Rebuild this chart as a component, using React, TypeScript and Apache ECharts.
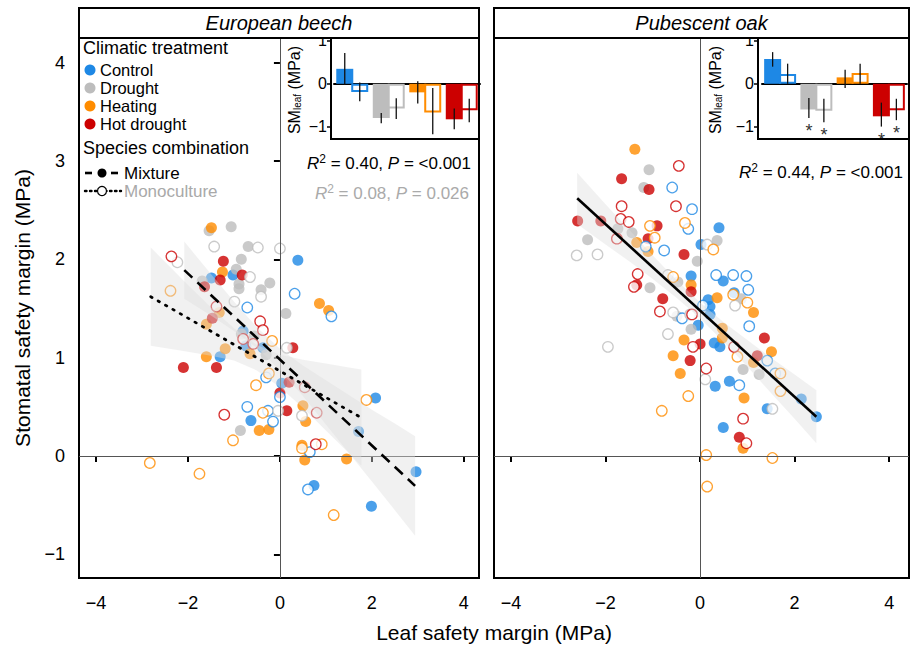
import React, { useEffect, useRef } from 'react';
import * as echarts from 'echarts';

const FONT = '"Liberation Sans", Arial, Helvetica, sans-serif';

const treatments = ['Control', 'Drought', 'Heating', 'Hot drought'];
const treatmentColors = ['#1e88e5', '#bdbdbd', '#ff8c00', '#cc0000'];
const panelTitles = ['European beech', 'Pubescent oak'];
const combinations = ['Mixture', 'Monoculture'];

const beechXRange = [-4.37, 4.33];
const oakXRange = [-4.36, 4.42];
const mainYRange = [-1.24, 4.25];
const xTicks = [-4, -2, 0, 2, 4];
const yTicks = [-1, 0, 1, 2, 3, 4];
const insetYRange = [-1.29, 1.07];
const insetTicks = [-1, 0, 1];

// European beech — filled = mixture, open = monoculture
const beechControlMix = [[0.39, 1.99], [-1.02, 1.84], [-1.49, 1.81], [-0.8, 1.27], [-0.74, 1.12], [-0.37, 1.1], [-1.3, 1.01], [0.04, 0.74], [-0.63, 0.36], [2.08, 0.59], [1.71, 0.25], [2.96, -0.16], [0.74, -0.3], [1.99, -0.51]];
const beechControlMono = [[0.32, 1.65], [-0.71, 1.51], [1.12, 1.42], [-0.3, 0.8], [0.0, 0.6], [-0.71, 0.5], [-0.26, 0.46], [-0.15, 0.35], [0.65, 0.04], [0.61, -0.34]];
const beechDroughtMix = [[-1.54, 2.29], [-1.06, 2.33], [-0.69, 2.13], [-0.84, 2.0], [-0.95, 1.9], [-1.69, 1.78], [-0.89, 1.75], [-0.89, 1.7], [-0.22, 1.76], [-0.41, 1.69], [0.13, 1.45], [-0.84, 1.24], [-0.56, 1.22], [-0.3, 1.03], [-0.86, 0.26]];
const beechDroughtMono = [[-1.43, 2.13], [-0.48, 2.12], [0.0, 2.11], [-2.23, 1.97], [-0.65, 1.82], [-0.41, 1.62], [-0.99, 1.57], [0.15, 1.1], [-0.04, 0.46], [0.48, 0.41]];
const beechHeatingMix = [[-1.49, 2.32], [-1.25, 1.87], [0.86, 1.55], [1.06, 1.48], [-1.32, 1.46], [-1.6, 1.34], [-1.19, 1.09], [-1.6, 1.01], [-0.65, 1.04], [0.5, 0.51], [0.56, 0.35], [-0.45, 0.26], [-0.24, 0.27], [0.48, 0.11], [0.54, -0.04], [1.45, -0.03]];
const beechHeatingMono = [[-2.38, 1.68], [-0.17, 1.17], [-0.24, 0.84], [-0.52, 0.72], [-0.37, 0.44], [1.88, 0.57], [-1.02, 0.16], [0.48, 0.08], [0.91, 0.12], [-2.83, -0.07], [-1.75, -0.18], [1.17, -0.6]];
const beechHotMix = [[-1.23, 1.98], [-0.82, 1.84], [-1.3, 1.79], [-1.64, 1.72], [-1.47, 1.4], [0.28, 1.1], [-2.1, 0.9], [-1.38, 0.9], [0.2, 0.75], [0.0, 0.64], [0.15, 0.46]];
const beechHotMono = [[-2.36, 2.03], [-1.38, 1.52], [-0.43, 1.37], [-0.37, 1.28], [-0.8, 1.19], [-0.58, 1.14], [0.54, 0.7], [0.8, 0.44], [-1.21, 0.42], [0.78, 0.12]];

// Pubescent oak
const oakControlMix = [[0.4, 2.32], [0.02, 2.15], [0.49, 1.78], [0.72, 1.66], [-0.19, 1.83], [0.17, 1.59], [0.21, 1.52], [0.21, 1.44], [-0.04, 1.33], [0.3, 1.15], [0.42, 1.11], [0.62, 0.76], [0.32, 0.71], [1.42, 0.48], [2.14, 0.58], [2.46, 0.4], [0.49, 0.29]];
const oakControlMono = [[-0.59, 2.73], [-0.17, 2.51], [-0.25, 2.31], [-1.15, 2.13], [-0.76, 2.09], [0.34, 1.84], [0.7, 1.84], [0.98, 1.83], [1.02, 1.69], [0.06, 1.53], [-0.38, 1.4], [1.04, 1.32], [1.42, 0.97], [1.59, 0.84], [0.83, 0.72]];
const oakDroughtMix = [[-1.08, 2.91], [-1.19, 2.73], [-2.38, 2.2], [-1.74, 2.31], [-1.44, 2.27], [0.36, 2.19], [-0.06, 1.98], [-1.06, 1.71], [-0.47, 1.77], [-0.49, 1.42], [-0.19, 1.29], [0.87, 1.6], [0.91, 0.88], [1.25, 0.83]];
const oakDroughtMono = [[0.15, 2.15], [-2.61, 2.04], [-2.17, 2.05], [-0.68, 1.84], [-0.57, 1.46], [-0.68, 1.24], [-0.21, 1.44], [0.74, 1.53], [-1.95, 1.11], [0.11, 0.78], [1.53, 0.48]];
const oakHeatingMix = [[-1.38, 3.12], [-1.1, 2.08], [-1.34, 2.17], [-0.19, 1.74], [0.36, 1.61], [1.13, 1.46], [0.47, 1.3], [0.47, 1.2], [-0.34, 1.18], [1.51, 1.06], [1.13, 0.95], [-0.57, 1.02], [-0.42, 0.84], [0.93, 0.59], [0.91, 0.08]];
const oakHeatingMono = [[-1.06, 2.34], [-0.96, 2.22], [-0.32, 2.37], [-0.57, 1.82], [0.28, 2.1], [0.7, 1.64], [1.0, 1.56], [0.79, 1.01], [1.7, 0.84], [1.7, 0.66], [-0.25, 0.61], [-0.81, 0.46], [0.13, 0.01], [1.53, -0.02], [0.15, -0.31]];
const oakHotMix = [[-1.66, 2.82], [-1.08, 2.71], [-2.59, 2.39], [-2.1, 2.39], [-0.91, 2.34], [-1.1, 2.21], [-0.34, 2.05], [-1.34, 1.74], [-0.79, 1.6], [-0.19, 1.67], [0.0, 1.14], [1.36, 1.2], [1.21, 1.02], [-0.21, 0.97], [0.83, 0.19]];
const oakHotMono = [[-0.45, 2.95], [-1.66, 2.54], [-0.51, 2.54], [-1.68, 2.41], [-1.51, 2.38], [-1.76, 2.21], [-1.32, 1.85], [-1.4, 1.72], [-0.85, 1.47], [-0.17, 1.44], [-0.15, 1.11], [0.72, 1.11], [0.13, 0.89], [0.91, 0.38], [0.98, 0.13]];

// Fitted lines and confidence bands [x, lower, upper]
const beechMixLine = [[-2.08, 1.89], [2.94, -0.303]];
const beechMixBand = [[-2.08, 1.6, 2.18], [-1.5, 1.43, 1.85], [-1.0, 1.27, 1.57], [-0.5, 1.1, 1.31], [0, 0.87, 1.09], [0.5, 0.61, 0.92], [1.0, 0.32, 0.77], [1.5, 0.03, 0.62], [2.0, -0.26, 0.47], [2.5, -0.55, 0.33], [2.94, -0.81, 0.2]];
const beechMonoLine = [[-2.81, 1.62], [1.77, 0.389]];
const beechMonoBand = [[-2.81, 1.12, 2.12], [-2.0, 1.06, 1.74], [-1.5, 1.02, 1.51], [-1.0, 0.97, 1.3], [-0.5, 0.87, 1.13], [0, 0.7, 1.03], [0.5, 0.49, 0.98], [1.0, 0.26, 0.94], [1.5, 0.03, 0.9], [1.77, -0.1, 0.88]];
const oakMixLine = [[-2.6, 2.62], [2.46, 0.4]];
const oakMixBand = [[-2.6, 2.36, 2.88], [-2.0, 2.15, 2.56], [-1.5, 1.98, 2.3], [-1.0, 1.8, 2.04], [-0.5, 1.61, 1.79], [0, 1.4, 1.56], [0.5, 1.16, 1.36], [1.0, 0.91, 1.18], [1.5, 0.64, 1.0], [2.0, 0.38, 0.83], [2.46, 0.13, 0.67]];

// Inset bar charts (SM leaf)
const beechInsetMix = [0.35, -0.8, -0.2, -0.83];
const beechInsetMixErr = [[-0.02, 0.72], [-0.92, -0.68], [-0.46, 0.06], [-1.06, -0.58]];
const beechInsetMono = [-0.19, -0.58, -0.67, -0.62];
const beechInsetMonoErr = [[-0.41, 0.03], [-0.82, -0.34], [-1.18, -0.1], [-0.9, -0.35]];
const oakInsetMix = [0.58, -0.6, 0.15, -0.76];
const oakInsetMixErr = [[0.4, 0.74], [-0.8, -0.33], [-0.1, 0.33], [-1.0, -0.44]];
const oakInsetMono = [0.23, -0.63, 0.25, -0.62];
const oakInsetMonoErr = [[0.0, 0.47], [-0.9, -0.35], [0.0, 0.47], [-0.85, -0.35]];
const oakInsetMixSig = [false, true, false, true];
const oakInsetMonoSig = [false, true, false, true];

const beechStats = ['0.40', '<0.001'];
const beechMonoStats = ['0.08', '0.026'];
const oakStats = ['0.44', '<0.001'];

const fmt = (v: number) => (v < 0 ? '\u2212' + Math.abs(v) : String(v));

function mainX(gi: number, range: number[]) {
  return {
    type: 'value', gridIndex: gi, min: range[0], max: range[1],
    splitLine: { show: false }, axisLine: { show: false },
    axisTick: { show: true, length: 6, customValues: xTicks, lineStyle: { color: '#000', width: 2 } },
    axisLabel: { customValues: xTicks, formatter: fmt, fontSize: 18, color: '#000', margin: 16, fontFamily: FONT },
  };
}
function mainY(gi: number, show: boolean) {
  return {
    type: 'value', gridIndex: gi, min: mainYRange[0], max: mainYRange[1],
    splitLine: { show: false }, axisLine: { show: false },
    axisTick: { show, length: 6, customValues: yTicks, lineStyle: { color: '#000', width: 2 } },
    axisLabel: { show, customValues: yTicks, formatter: fmt, fontSize: 18, color: '#000', margin: 14, fontFamily: FONT },
  };
}
function insetX(gi: number) {
  return {
    type: 'category', gridIndex: gi, data: treatments,
    axisLabel: { show: false }, axisTick: { show: false }, splitLine: { show: false },
    axisLine: { show: true, onZero: true, lineStyle: { color: '#000', width: 2 } },
  };
}
function insetY(gi: number, off: number) {
  return {
    type: 'value', gridIndex: gi, min: insetYRange[0], max: insetYRange[1], offset: off,
    splitLine: { show: false }, axisLine: { show: false },
    axisTick: { show: true, length: 4, customValues: insetTicks, lineStyle: { color: '#000', width: 1.5 } },
    axisLabel: { customValues: insetTicks, formatter: fmt, fontSize: 16, color: '#000', margin: 4, fontFamily: FONT },
  };
}

function scatter(gi: number, data: number[][], ci: number, open: boolean) {
  const color = treatmentColors[ci];
  return {
    type: 'scatter', xAxisIndex: gi, yAxisIndex: gi, data, symbol: 'circle', symbolSize: open ? 10.5 : 11,
    silent: true, z: open ? 4 : 3,
    itemStyle: open ? { color: '#fff', borderColor: color, borderWidth: 1.3 } : { color, borderWidth: 0 },
  };
}

function band(gi: number, data: number[][]) {
  return {
    type: 'custom', xAxisIndex: gi, yAxisIndex: gi, data, silent: true, z: 5,
    encode: { x: 0, y: [1, 2] },
    renderItem: (params: any, api: any) => {
      if (params.dataIndex !== 0) return null;
      const up = data.map((d) => api.coord([d[0], d[2]]));
      const lo = data.map((d) => api.coord([d[0], d[1]])).reverse();
      return { type: 'polygon', shape: { points: up.concat(lo) }, style: { fill: 'rgba(222,222,222,0.42)' } };
    },
  };
}

function fitLine(gi: number, data: number[][], dash: number[], width: number, cap: string) {
  return {
    type: 'line', xAxisIndex: gi, yAxisIndex: gi, data, showSymbol: false, silent: true, z: 6,
    lineStyle: { color: '#000', width, type: dash, cap },
  };
}

function zeroLines(gi: number) {
  return {
    type: 'scatter', xAxisIndex: gi, yAxisIndex: gi, data: [], z: 1, silent: true,
    markLine: {
      silent: true, symbol: 'none', label: { show: false },
      lineStyle: { color: '#555', width: 1, type: 'solid' },
      data: [{ xAxis: 0 }, { yAxis: 0 }],
    },
  };
}

function bars(gi: number, values: number[], open: boolean) {
  return {
    type: 'bar', xAxisIndex: gi, yAxisIndex: gi, barWidth: 17, barGap: '-12%', silent: true, z: open ? 3 : 2,
    data: values.map((v, i) => ({
      value: v,
      itemStyle: open
        ? { color: '#fff', borderColor: treatmentColors[i], borderWidth: 2 }
        : { color: treatmentColors[i] },
    })),
  };
}

function errBars(gi: number, errs: number[][], sig: boolean[] | null, dx: number) {
  return {
    type: 'custom', xAxisIndex: gi, yAxisIndex: gi, silent: true, z: 8,
    data: errs.map((e, i) => [i, e[0], e[1], sig && sig[i] ? 1 : 0]),
    encode: { x: 0, y: [1, 2] },
    renderItem: (params: any, api: any) => {
      const lo = api.coord([api.value(0), api.value(1)]);
      const hi = api.coord([api.value(0), api.value(2)]);
      const x = lo[0] + dx;
      const children: any[] = [
        { type: 'line', shape: { x1: x, y1: lo[1], x2: x, y2: hi[1] }, style: { stroke: '#111', lineWidth: 1.3 } },
      ];
      if (api.value(3)) {
        children.push({
          type: 'text', x, y: lo[1] + 13,
          style: { text: '*', fontSize: 18, fill: '#333', align: 'center', verticalAlign: 'middle', fontFamily: FONT },
        });
      }
      return { type: 'group', children };
    },
  };
}

function statText(x: number, y: number, r2: string, p: string, color: string, pEq: string) {
  return {
    type: 'text', x, y, z: 20,
    style: {
      text: `{i|R}{s|2}{n| = ${r2}, }{i|P}{n|${pEq}${p}}`,
      align: 'right', verticalAlign: 'middle',
      rich: {
        i: { fontStyle: 'italic', fontSize: 17, fill: color, fontFamily: FONT },
        n: { fontSize: 17, fill: color, fontFamily: FONT },
        s: { fontSize: 12, fill: color, fontFamily: FONT, verticalAlign: 'bottom', padding: [0, 0, 9, 0] },
      },
    },
  };
}

export default function App() {
  const ref = useRef<HTMLDivElement>(null);
  useEffect(() => {
    document.body.style.margin = '0';
    const chart = echarts.init(ref.current!, null, { renderer: 'svg' });

    const beechSets = [[beechControlMix, beechControlMono], [beechDroughtMix, beechDroughtMono], [beechHeatingMix, beechHeatingMono], [beechHotMix, beechHotMono]];
    const oakSets = [[oakControlMix, oakControlMono], [oakDroughtMix, oakDroughtMono], [oakHeatingMix, oakHeatingMono], [oakHotMix, oakHotMono]];

    const series: any[] = [zeroLines(0), zeroLines(1)];
    beechSets.forEach((s, i) => series.push(scatter(0, s[0], i, false)));
    beechSets.forEach((s, i) => series.push(scatter(0, s[1], i, true)));
    oakSets.forEach((s, i) => series.push(scatter(1, s[0], i, false)));
    oakSets.forEach((s, i) => series.push(scatter(1, s[1], i, true)));
    series.push(band(0, beechMixBand), band(0, beechMonoBand), band(1, oakMixBand));
    series.push(fitLine(0, beechMixLine, [11, 7], 2.6, 'butt'));
    series.push(fitLine(0, beechMonoLine, [1.5, 7], 2.8, 'round'));
    series.push(fitLine(1, oakMixLine, [], 2.6, 'butt'));
    series.push(bars(2, beechInsetMix, false), bars(2, beechInsetMono, true));
    series.push(bars(3, oakInsetMix, false), bars(3, oakInsetMono, true));
    series.push(errBars(2, beechInsetMixErr, null, -7.5), errBars(2, beechInsetMonoErr, null, 7.5));
    series.push(errBars(3, oakInsetMixErr, oakInsetMixSig, -7.5), errBars(3, oakInsetMonoErr, oakInsetMonoSig, 7.5));

    const strips = [[79, 400], [494, 415]];
    const graphics: any[] = [];
    strips.forEach((s, i) => {
      graphics.push({ type: 'rect', z: 10, shape: { x: s[0], y: 8, width: s[1], height: 30 }, style: { fill: '#fff', stroke: '#000', lineWidth: 2 } });
      graphics.push({ type: 'text', z: 11, x: s[0] + s[1] / 2, y: 23, style: { text: panelTitles[i], fontSize: 20, fontStyle: 'italic', fill: '#000', align: 'center', verticalAlign: 'middle', fontFamily: FONT } });
    });
    // inset boxes
    [[331, 148], [758, 151]].forEach((b) => {
      graphics.push({ type: 'rect', z: 20, shape: { x: b[0], y: 38, width: b[1], height: 101 }, style: { fill: 'none', stroke: '#000', lineWidth: 2 } });
    });
    [294, 715].forEach((x) => {
      graphics.push({
        type: 'text', z: 20, x, y: 90, rotation: Math.PI / 2,
        style: {
          text: '{a|SM}{b|leaf}{a| (MPa)}', align: 'center', verticalAlign: 'middle',
          rich: {
            a: { fontSize: 16, fill: '#000', fontFamily: FONT },
            b: { fontSize: 10, fill: '#000', fontFamily: FONT, verticalAlign: 'bottom' },
          },
        },
      });
    });
    // legend
    const lt = { fontSize: 18, lineHeight: 17, fill: '#000', align: 'left', verticalAlign: 'middle', fontFamily: FONT };
    graphics.push({ type: 'text', z: 20, x: 83, y: 48, style: { ...lt, text: 'Climatic treatment' } });
    treatments.forEach((t, i) => {
      const cy = 70 + i * 18;
      graphics.push({ type: 'circle', z: 20, shape: { cx: 90, cy, r: 5.5 }, style: { fill: treatmentColors[i] } });
      graphics.push({ type: 'text', z: 20, x: 100, y: cy, style: { ...lt, fontSize: 16.5, lineHeight: 16, text: t } });
    });
    graphics.push({ type: 'text', z: 20, x: 83, y: 148, style: { ...lt, text: 'Species combination' } });
    graphics.push({ type: 'line', z: 20, shape: { x1: 85, y1: 173, x2: 92, y2: 173 }, style: { stroke: '#000', lineWidth: 2.6 } });
    graphics.push({ type: 'line', z: 20, shape: { x1: 111, y1: 173, x2: 118, y2: 173 }, style: { stroke: '#000', lineWidth: 2.6 } });
    graphics.push({ type: 'circle', z: 21, shape: { cx: 102, cy: 173, r: 4.5 }, style: { fill: '#000' } });
    graphics.push({ type: 'text', z: 20, x: 124, y: 173, style: { ...lt, fontSize: 17, lineHeight: 16, text: combinations[0] } });
    graphics.push({ type: 'line', z: 20, shape: { x1: 85, y1: 191, x2: 121, y2: 191 }, style: { stroke: '#000', lineWidth: 2.4, lineDash: [1.5, 3.5], lineCap: 'round' } });
    graphics.push({ type: 'circle', z: 21, shape: { cx: 102, cy: 191, r: 4.5 }, style: { fill: '#fff', stroke: '#000', lineWidth: 1.2 } });
    graphics.push({ type: 'text', z: 20, x: 124, y: 191, style: { ...lt, fontSize: 17, lineHeight: 16, text: combinations[1], fill: '#a9a9a9' } });
    // stats
    graphics.push(statText(471, 163, beechStats[0], beechStats[1], '#000', ' = '));
    graphics.push(statText(469, 193, beechMonoStats[0], beechMonoStats[1], '#aaaaaa', ' = '));
    graphics.push(statText(903, 172, oakStats[0], oakStats[1], '#000', ' = '));
    // axis titles
    graphics.push({ type: 'text', z: 20, x: 494, y: 632, style: { text: 'Leaf safety margin (MPa)', fontSize: 21, fill: '#000', align: 'center', verticalAlign: 'middle', fontFamily: FONT } });
    graphics.push({ type: 'text', z: 20, x: 22, y: 308, rotation: Math.PI / 2, style: { text: 'Stomatal safety margin (MPa)', fontSize: 21, fill: '#000', align: 'center', verticalAlign: 'middle', fontFamily: FONT } });

    chart.setOption({
      animation: false,
      backgroundColor: '#fff',
      textStyle: { fontFamily: FONT },
      grid: [
        { left: 79, top: 38, width: 400, height: 540, show: true, borderColor: '#000', borderWidth: 2, backgroundColor: 'transparent' },
        { left: 494, top: 38, width: 415, height: 540, show: true, borderColor: '#000', borderWidth: 2, backgroundColor: 'transparent' },
        { left: 334, top: 38, width: 146, height: 101 },
        { left: 762, top: 38, width: 145, height: 101 },
      ],
      xAxis: [mainX(0, beechXRange), mainX(1, oakXRange), insetX(2), insetX(3)],
      yAxis: [mainY(0, true), mainY(1, false), insetY(2, 3), insetY(3, 4)],
      series,
      graphic: { elements: graphics },
    });
    return () => chart.dispose();
  }, []);
  return <div ref={ref} style={{ width: 914, height: 648 }} />;
}
